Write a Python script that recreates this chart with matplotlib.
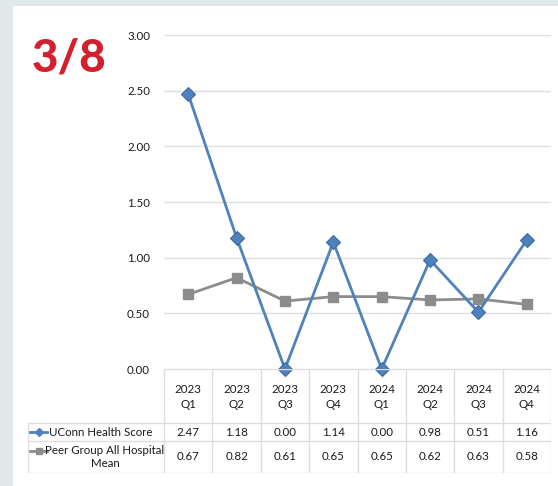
import numpy as np
import matplotlib
matplotlib.use("Agg")
import matplotlib.pyplot as plt

quarters = ["2023\nQ1", "2023\nQ2", "2023\nQ3", "2023\nQ4",
            "2024\nQ1", "2024\nQ2", "2024\nQ3", "2024\nQ4"]
uconn = [2.47, 1.18, 0.00, 1.14, 0.00, 0.98, 0.51, 1.16]
peer = [0.67, 0.82, 0.61, 0.65, 0.65, 0.62, 0.63, 0.58]
series_names = ["UConn Health Score", "Peer Group All Hospital\nMean"]
yticks = [0.0, 0.5, 1.0, 1.5, 2.0, 2.5, 3.0]

plt.rcParams['font.family'] = ['Lato', 'DejaVu Sans']

W, H = 558, 486
fig = plt.figure(figsize=(W / 100, H / 100), dpi=100)
fig.patch.set_facecolor('#e1e8ea')

# white panel
panel = fig.add_axes([13 / W, 0, (W - 13) / W, (H - 6) / H])
panel.set_facecolor('white')
panel.set_xticks([])
panel.set_yticks([])
for s in panel.spines.values():
    s.set_visible(False)

fig.text(69 / W, 1 - 59 / H, "3/8", color='#d2202f', fontsize=33,
         fontweight='black', ha='center', va='center')

blue = '#4f81bd'
blue_edge = '#3c6aa0'
gray = '#8c8c8c'
grid = '#dedede'
txt = '#1a1a1a'

x0, x1 = 164, 551
ytop, ybot = 35, 369
ax = fig.add_axes([x0 / W, 1 - ybot / H, (x1 - x0) / W, (ybot - ytop) / H])
ax.set_facecolor('none')
x = np.arange(len(quarters))
ax.plot(x, peer, color=gray, lw=2, marker='s', ms=6.5, mfc=gray, mec=gray,
        zorder=3, clip_on=False)
ax.plot(x, uconn, color=blue, lw=2, marker='D', ms=6.8, mfc=blue, mec=blue_edge,
        mew=0.8, zorder=4, clip_on=False)
ax.set_xlim(-0.5, len(quarters) - 0.5)
ax.set_ylim(0, 3)
ax.set_yticks(yticks)
ax.set_yticklabels([f"{v:.2f}" for v in yticks], fontsize=8.3, color=txt)
ax.set_xticks([])
ax.tick_params(axis='y', length=0, pad=10)
ax.grid(axis='y', color=grid, lw=1)
ax.set_axisbelow(True)
for s in ax.spines.values():
    s.set_visible(False)

# data table below the plot
tleft, tbottom = 28, 473
unit = (x1 - x0) / len(quarters)
xl = -0.5 - (x0 - tleft) / unit
tab = fig.add_axes([tleft / W, 1 - tbottom / H, (x1 - tleft) / W, (tbottom - ybot) / H])
tab.set_xlim(xl, len(quarters) - 0.5)
tab.set_ylim(tbottom - ybot, 0)
tab.axis('off')
r_head, r1, r2 = 423 - ybot, 441 - ybot, tbottom - ybot
lc = '#dddddd'
tab.hlines([0], -0.5, len(quarters) - 0.5, color=lc, lw=1)
tab.hlines([r_head, r1, r2], xl, len(quarters) - 0.5, color=lc, lw=1)
tab.vlines(np.arange(len(quarters) + 1) - 0.5, 0, r2, color=lc, lw=1)
tab.vlines([xl], r_head, r2, color=lc, lw=1)

fs = 8.3
for i, q in enumerate(quarters):
    tab.text(i, r_head / 2 + 1, q, ha='center', va='center', fontsize=fs,
             linespacing=1.35, color=txt)
    tab.text(i, (r_head + r1) / 2, f"{uconn[i]:.2f}", ha='center', va='center',
             fontsize=fs, color=txt)
    tab.text(i, (r1 + r2) / 2, f"{peer[i]:.2f}", ha='center', va='center',
             fontsize=fs, color=txt)

# legend keys and row labels
kx = [xl + 2 / unit, xl + 19 / unit]
ky1 = (r_head + r1) / 2
tab.plot(kx, [ky1, ky1], color=blue, lw=2, clip_on=False)
tab.plot([np.mean(kx)], [ky1], marker='D', ms=4.5, color=blue, clip_on=False)
tab.text(xl + 21 / unit, ky1, series_names[0], ha='left', va='center',
         fontsize=fs, color=txt)
ky2 = 451 - ybot
tab.plot(kx, [ky2, ky2], color=gray, lw=2, clip_on=False)
tab.plot([np.mean(kx)], [ky2], marker='s', ms=4.5, color=gray, clip_on=False)
tab.text(xl + 77 / unit, (r1 + r2) / 2, series_names[1], ha='center', va='center',
         fontsize=fs, color=txt, multialignment='center', linespacing=1.15)

fig.savefig("out.png", dpi=100, facecolor=fig.get_facecolor())
